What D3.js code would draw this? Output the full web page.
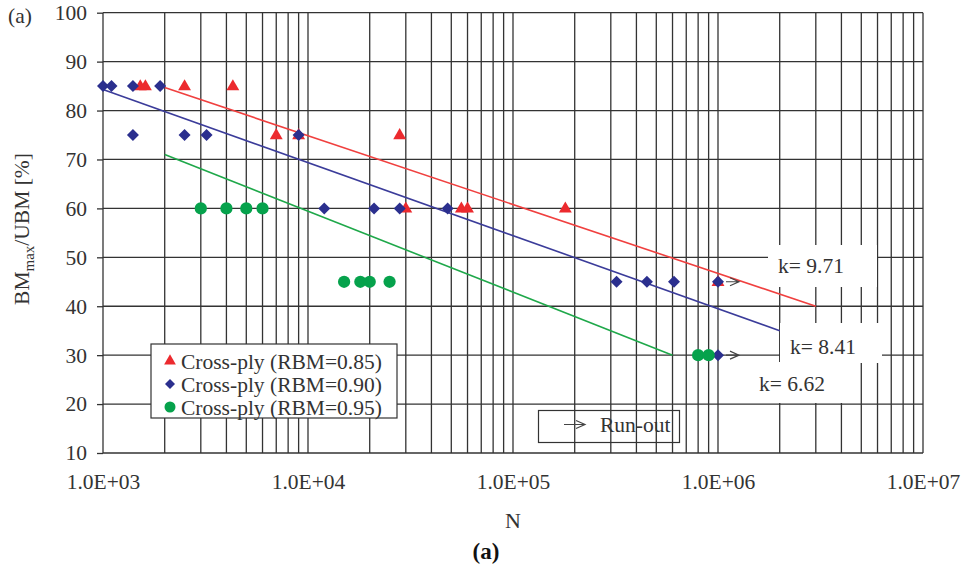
<!DOCTYPE html>
<html lang="en">
<head>
<meta charset="UTF-8">
<title>BMmax/UBM vs N</title>
<style>
    body { margin: 0; background: #fff; }
    svg, svg text { font-family: "Liberation Serif", "Times New Roman", serif; }
    .grid line { stroke: #333; stroke-width: 1.3; }
    .axisY text, .axisX text { fill: #333; font-size: 21.5px; font-family: "Liberation Serif", "Times New Roman", serif; }
    .axisY line { stroke: #333; stroke-width: 1.3; }
    .axisY path, .axisX path, .axisX line { display: none; }
</style>
</head>
<body>
<div id="chart"></div>
<script src="https://cdnjs.cloudflare.com/ajax/libs/d3/7.8.5/d3.min.js"></script>
<script>
    // cycles N and load level for each series
    const nRed = [1520, 1610, 2500, 4300, 7000, 9000, 28000, 30000, 56000, 60000, 180000, 1000000];
    const vRed = [85, 85, 85, 85, 75, 75, 75, 60, 60, 60, 60, 45];
    const nBlue = [1000, 1100, 1400, 1900, 1400, 2500, 3200, 9000, 12000, 21000, 28000, 48000, 320000, 450000, 610000, 1000000, 1000000];
    const vBlue = [85, 85, 85, 85, 75, 75, 75, 75, 60, 60, 60, 60, 45, 45, 45, 45, 30];
    const nGreen = [3000, 4000, 5000, 6000, 15000, 18000, 20000, 25000, 800000, 900000];
    const vGreen = [60, 60, 60, 60, 45, 45, 45, 45, 30, 30];

    // fitted lines (end points)
    const fitRedN = [2000, 3000000], fitRedV = [84.7, 40];
    const fitBlueN = [1000, 2000000], fitBlueV = [84.3, 35];
    const fitGreenN = [2000, 600000], fitGreenV = [71, 30];

    // run-out points
    const runN = [1000000, 1000000];
    const runV = [45, 30];

    const yTicks = [10, 20, 30, 40, 50, 60, 70, 80, 90, 100];
    const xTicks = [1e3, 1e4, 1e5, 1e6, 1e7];
    const xTickLabels = ['1.0E+03', '1.0E+04', '1.0E+05', '1.0E+06', '1.0E+07'];
    const seriesNames = ['Cross-ply (RBM=0.85)', 'Cross-ply (RBM=0.90)', 'Cross-ply (RBM=0.95)'];
    const kLabels = ['k= 9.71', 'k= 8.41', 'k= 6.62'];

    const red = '#ec2a2e', blue = '#2b2f8e', green = '#06a24c';

    const W = 968, H = 572;
    const x = d3.scaleLog().domain([1e3, 1e7]).range([103, 923]);
    const y = d3.scaleLinear().domain([10, 100]).range([453, 12.7]);

    const svg = d3.select('#chart').append('svg')
        .attr('width', W)
        .attr('height', H);

    // grid
    const minor = [];
    for (let e = 3; e < 7; e++) {
        for (let m = 1; m < 10; m++) minor.push(m * Math.pow(10, e));
    }
    minor.push(1e7);
    const grid = svg.append('g').attr('class', 'grid');
    grid.selectAll('.v').data(minor).enter().append('line')
        .attr('x1', d => x(d)).attr('x2', d => x(d))
        .attr('y1', y(100)).attr('y2', y(10));
    grid.selectAll('.h').data(yTicks).enter().append('line')
        .attr('x1', x(1e3)).attr('x2', x(1e7))
        .attr('y1', d => y(d)).attr('y2', d => y(d));

    // axes
    svg.append('g')
        .attr('class', 'axisY')
        .attr('transform', 'translate(' + x(1e3) + ',0)')
        .call(d3.axisLeft(y).tickValues(yTicks).tickSize(6).tickPadding(10))
        .attr('font-family', null);

    svg.append('g')
        .attr('class', 'axisX')
        .attr('transform', 'translate(0,' + y(10) + ')')
        .call(d3.axisBottom(x).tickValues(xTicks).tickSize(0).tickPadding(21)
            .tickFormat((d, i) => xTickLabels[i]))
        .attr('font-family', null);

    // white boxes behind the k labels
    const kBoxes = [[768, 245, 109, 42], [780, 323, 102, 40], [750, 362, 104, 41]];
    svg.selectAll('.kbox').data(kBoxes).enter().append('rect')
        .attr('x', d => d[0]).attr('y', d => d[1])
        .attr('width', d => d[2]).attr('height', d => d[3])
        .attr('fill', '#fff');
    const kPos = [[811, 265], [823, 346], [792, 383]];
    svg.selectAll('.klab').data(kLabels).enter().append('text')
        .attr('x', (d, i) => kPos[i][0]).attr('y', (d, i) => kPos[i][1])
        .attr('dy', '0.35em')
        .attr('text-anchor', 'middle')
        .attr('font-size', 21.5)
        .attr('fill', '#333')
        .text(d => d);

    // fitted lines
    const fits = [[fitRedN, fitRedV, '#f0403f'], [fitBlueN, fitBlueV, '#3b3c9a'], [fitGreenN, fitGreenV, '#1fa84a']];
    fits.forEach(f => {
        svg.append('line')
            .attr('x1', x(f[0][0])).attr('y1', y(f[1][0]))
            .attr('x2', x(f[0][1])).attr('y2', y(f[1][1]))
            .attr('stroke', f[2])
            .attr('stroke-width', 1.6);
    });

    // markers
    const tri = d3.symbol().type(d3.symbolTriangle).size(72);
    const dia = d3.symbol().type(d3.symbolSquare).size(72);
    const circ = d3.symbol().type(d3.symbolCircle).size(118);

    svg.selectAll('.red').data(nRed).enter().append('path')
        .attr('d', tri)
        .attr('transform', (d, i) => 'translate(' + x(d) + ',' + (y(vRed[i]) + 0.5) + ')')
        .attr('fill', red);
    svg.selectAll('.blue').data(nBlue).enter().append('path')
        .attr('d', dia)
        .attr('transform', (d, i) => 'translate(' + x(d) + ',' + y(vBlue[i]) + ') rotate(45)')
        .attr('fill', blue);
    svg.selectAll('.green').data(nGreen).enter().append('path')
        .attr('d', circ)
        .attr('transform', (d, i) => 'translate(' + x(d) + ',' + y(vGreen[i]) + ')')
        .attr('fill', green);

    // run-out arrows
    function arrow(g, x0, x1, yy) {
        g.append('path')
            .attr('d', 'M' + x0 + ',' + yy + 'H' + x1 + 'M' + (x1 - 9) + ',' + (yy - 4) + 'L' + x1 + ',' + yy + 'L' + (x1 - 9) + ',' + (yy + 4))
            .attr('fill', 'none')
            .attr('stroke', '#444')
            .attr('stroke-width', 1.2);
    }
    runN.forEach((d, i) => arrow(svg, x(d) + 8, x(d) + 21, y(runV[i])));

    // legend
    const lg = svg.append('g');
    lg.append('rect')
        .attr('x', 151).attr('y', 344)
        .attr('width', 246).attr('height', 74)
        .attr('fill', '#fff')
        .attr('stroke', '#333')
        .attr('stroke-width', 1.2);
    const rows = [361, 384, 407];
    const legSyms = [
        d3.symbol().type(d3.symbolTriangle).size(60),
        d3.symbol().type(d3.symbolSquare).size(50),
        d3.symbol().type(d3.symbolCircle).size(95)
    ];
    const legCols = [red, blue, green];
    seriesNames.forEach((name, i) => {
        lg.append('path')
            .attr('d', legSyms[i])
            .attr('transform', 'translate(170,' + rows[i] + ')' + (i === 1 ? ' rotate(45)' : ''))
            .attr('fill', legCols[i]);
        lg.append('text')
            .attr('x', 181).attr('y', rows[i])
            .attr('dy', '0.35em')
            .attr('font-size', 21.5)
            .attr('fill', '#333')
            .text(name);
    });

    // run-out box
    svg.append('rect')
        .attr('x', 538.5).attr('y', 410.5)
        .attr('width', 141).attr('height', 32)
        .attr('fill', 'none')
        .attr('stroke', '#333')
        .attr('stroke-width', 1.2);
    arrow(svg, 564, 585, 424.5);
    svg.append('text')
        .attr('x', 600).attr('y', 424.5)
        .attr('dy', '0.35em')
        .attr('font-size', 21.5)
        .attr('fill', '#333')
        .text('Run-out');

    // titles
    svg.append('text')
        .attr('x', 8).attr('y', 15)
        .attr('dy', '0.35em')
        .attr('font-size', 21.5)
        .attr('fill', '#333')
        .text('(a)');

    svg.append('text')
        .attr('x', 513).attr('y', 520)
        .attr('dy', '0.35em')
        .attr('text-anchor', 'middle')
        .attr('font-size', 22)
        .attr('fill', '#333')
        .text('N');

    svg.append('text')
        .attr('x', 486).attr('y', 551)
        .attr('dy', '0.35em')
        .attr('text-anchor', 'middle')
        .attr('font-size', 23)
        .attr('font-weight', 'bold')
        .attr('fill', '#111')
        .text('(a)');

    const yl = svg.append('text')
        .attr('transform', 'translate(21,229) rotate(-90)')
        .attr('dy', '0.35em')
        .attr('text-anchor', 'middle')
        .attr('font-size', 21.5)
        .attr('fill', '#333');
    yl.append('tspan').text('BM');
    yl.append('tspan').attr('font-size', 15).attr('dy', 5).text('max');
    yl.append('tspan').attr('dy', -5).text('/UBM [%]');
</script>
</body>
</html>
